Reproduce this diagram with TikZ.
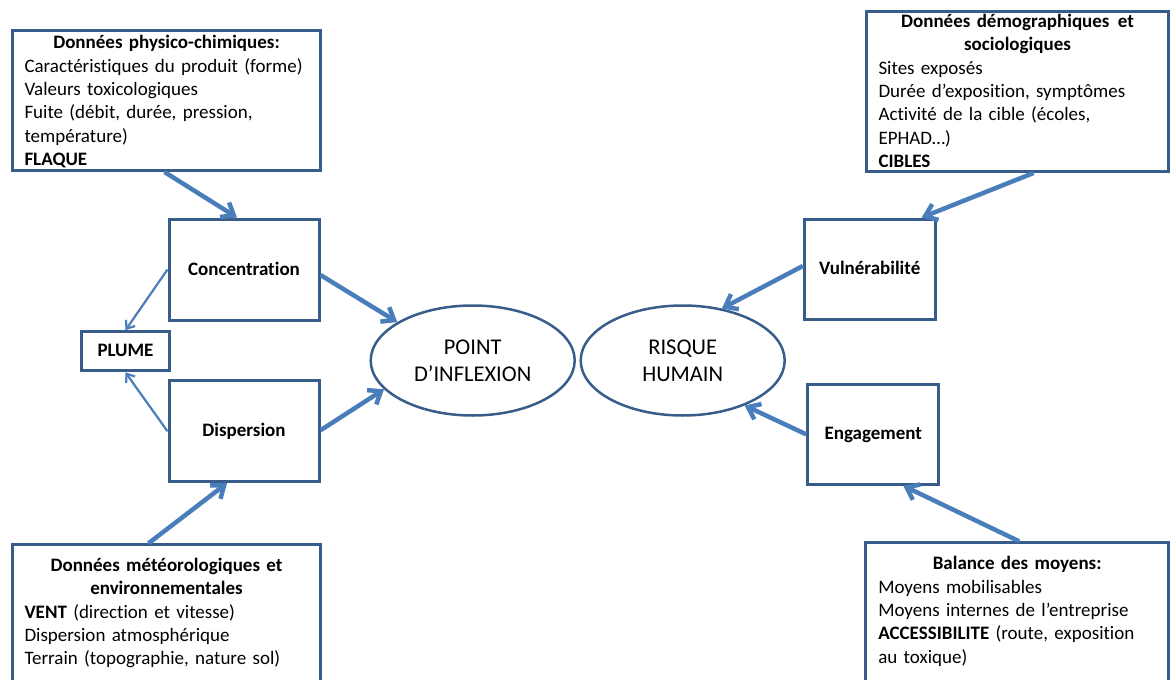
\documentclass[tikz,border=0pt]{standalone}
\usepackage{fontspec}
\setmainfont{Carlito}[Ligatures=NoCommon]
\usepackage{tikz}
\usetikzlibrary{arrows.meta,shapes.geometric,positioning}
\definecolor{boxline}{HTML}{385D8A}
\definecolor{arrowline}{HTML}{4A7EBB}
\tikzset{%
  box/.style={draw=boxline, line width=3pt, rectangle, inner sep=0pt,
    text height=14.6pt, text depth=3.4pt, font=\fontsize{19}{23.3}\selectfont\bfseries},
  data box/.style={draw=boxline, line width=3pt, rectangle, anchor=north west,
    inner ysep=0pt, align=left, font=\fontsize{19}{23.3}\selectfont},
  oval/.style={draw=boxline, line width=2.5pt, ellipse, inner sep=0pt,
    minimum width=204pt, minimum height=110pt, align=center,
    font=\fontsize{22.5}{27.3}\selectfont},
  thick arrow/.style={draw=arrowline, line width=4.5pt, -{Straight Barb[length=11pt,width=17pt]}},
  thin arrow/.style={draw=arrowline, line width=2.2pt, -{Straight Barb[length=7pt,width=11pt]}}
}
\begin{document}
\begin{tikzpicture}[x=1pt, y=-1pt]
      \useasboundingbox (0,0) rectangle (1170,680);
      % \draw[step=10, gray, very thin] (0,0) grid (1170,680);

      \node[data box, text width=284pt, inner xsep=12pt, text height=18.3pt, text depth=121.7pt] (phys) at (11,29)
        {{\centering\textbf{Données physico-chimiques:}\par}
         Caractéristiques du produit (forme)\\
         Valeurs toxicologiques\\
         Fuite (débit, durée, pression,\\
         température)\\
         \textbf{FLAQUE}};
      \node[data box, text width=278pt, inner xsep=12pt, text height=16pt, text depth=144pt] (demo) at (865,10)
        {{\centering\textbf{Données démographiques\hspace{2pt} et}\\\textbf{sociologiques}\par}
         Sites exposés\\
         Durée d’exposition, symptômes\\
         Activité de la cible (écoles,\\
         EPHAD…)\\
         \textbf{CIBLES}};
      \node[data box, text width=284pt, inner xsep=12pt, text height=26.7pt, text depth=200pt] (meteo) at (11,543.3)
        {{\centering\textbf{Données météorologiques et}\\\textbf{environnementales}\par}
         \textbf{VENT} (direction et vitesse)\\
         Dispersion atmosphérique\\
         Terrain (topographie, nature sol)};
      \node[data box, text width=277.7pt, inner xsep=12.5pt, text height=27pt, text depth=200pt] (means) at (864.3,541.3)
        {{\centering\textbf{Balance des moyens:}\par}
         Moyens mobilisables\\
         Moyens internes de l’entreprise\\
         \textbf{ACCESSIBILITE} (route, exposition\\
         au toxique)};

      \node[box, minimum width=150pt, minimum height=101pt] (conc) at (244,269.5) {Concentration};
      \node[box, minimum width=150pt, minimum height=100.7pt] (disp) at (244,431.3) {Dispersion};
      \node[box, minimum width=87.6pt, minimum height=39.3pt] (plume) at (125.5,351.3) {PLUME};
      \node[box, minimum width=130.7pt, minimum height=100pt] (vuln) at (869.7,269) {Vulnérabilité};
      \node[box, minimum width=131.3pt, minimum height=100pt] (eng) at (873.3,434.3) {Engagement};

      \node[oval] (point) at (472.7,360.5) {POINT\\D’INFLEXION};
      \node[oval] (risk) at (682.7,360.5) {RISQUE\\HUMAIN};

      \draw[thick arrow] ([xshift=-2pt]phys.south) -- ([xshift=-7pt]conc.north);
      \draw[thick arrow] ([yshift=-5.5pt]conc.east) -- (point.153);
      \draw[thick arrow] ([yshift=1pt]disp.east) -- (point.198);
      \draw[thick arrow] ([xshift=-18pt]meteo.north) -- ([xshift=-17pt]disp.south);
      \draw[thin arrow] (conc.west) -- (plume.north);
      \draw[thin arrow] (disp.west) -- (plume.south);

      \draw[thick arrow] ([xshift=16pt]demo.south) -- ([xshift=52pt]vuln.north);
      \draw[thick arrow] ([yshift=3pt]vuln.west) -- (risk.53);
      \draw[thick arrow] (eng.west) -- (risk.-36);
      \draw[thick arrow] ([xshift=2pt]means.north) -- ([xshift=30pt]eng.south);
\end{tikzpicture}
\end{document}
